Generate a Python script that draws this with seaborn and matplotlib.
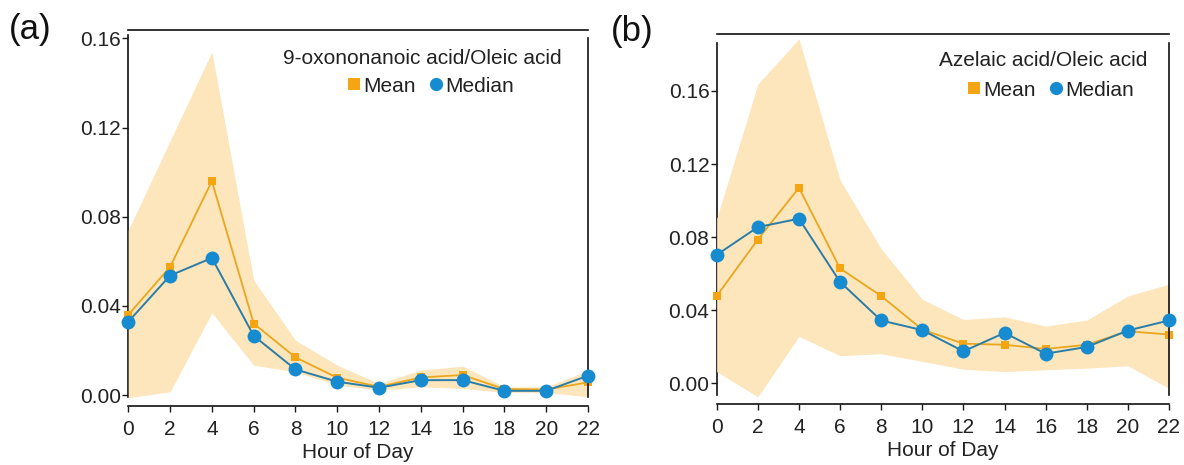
import matplotlib
matplotlib.use("Agg")
import matplotlib.pyplot as plt
from matplotlib.lines import Line2D
import numpy as np
import pandas as pd
import seaborn as sns

# Hour of day (x axis)
hours = [0, 2, 4, 6, 8, 10, 12, 14, 16, 18, 20, 22]

# (a) 9-oxononanoic acid / Oleic acid
a_mean = [0.036, 0.0575, 0.0959, 0.0321, 0.0169, 0.0078, 0.0037, 0.0079, 0.0090, 0.0027, 0.0025, 0.0057]
a_median = [0.0329, 0.0536, 0.0615, 0.0266, 0.0115, 0.0060, 0.0033, 0.0067, 0.0067, 0.0019, 0.0019, 0.0087]
a_upper = [0.074, 0.114, 0.1539, 0.0515, 0.0246, 0.0134, 0.0052, 0.0112, 0.0130, 0.0037, 0.0037, 0.0110]
a_lower = [-0.0012, 0.0015, 0.0369, 0.0134, 0.0104, 0.0045, 0.0022, 0.0037, 0.0030, 0.0012, 0.0012, -0.0008]

# (b) Azelaic acid / Oleic acid
b_mean = [0.0478, 0.0787, 0.1070, 0.0629, 0.0478, 0.0294, 0.0217, 0.0211, 0.0188, 0.0211, 0.0285, 0.0267]
b_median = [0.0703, 0.0855, 0.0901, 0.0555, 0.0344, 0.0291, 0.0175, 0.0276, 0.0162, 0.0199, 0.0289, 0.0344]
b_upper = [0.0901, 0.1637, 0.1885, 0.1113, 0.0736, 0.0460, 0.0349, 0.0364, 0.0313, 0.0346, 0.0478, 0.0543]
b_lower = [0.0064, -0.0074, 0.0257, 0.0151, 0.0162, 0.0120, 0.0077, 0.0064, 0.0074, 0.0083, 0.0096, -0.0028]

y_ticks = [0.00, 0.04, 0.08, 0.12, 0.16]
y_tick_labels = ["0.00", "0.04", "0.08", "0.12", "0.16"]

sns.set_theme(style="ticks")
plt.rcParams["font.family"] = ["Liberation Sans", "DejaVu Sans"]

FS = 15
MEAN_C = "#F5A511"
MEAN_LINE = "#E9A71E"
MED_C = "#168BD0"
MED_LINE = "#2A7DA6"
BAND_C = "#FDE5BC"

W, H = 1184, 465
fig = plt.figure(figsize=(W / 100, H / 100), dpi=100)


def px_axes(left, right, top, bottom):
    return fig.add_axes([left / W, 1 - bottom / H, (right - left) / W, (bottom - top) / H])


def draw_panel(ax, mean, median, upper, lower, ylim, left_bounds, right_bounds,
               title, title_xy, legend_xy, tag, tag_xy):
    df = pd.DataFrame({"hour": hours, "mean": mean, "median": median})
    ax.fill_between(hours, lower, upper, color=BAND_C, lw=0, zorder=2.6)
    sns.lineplot(data=df, x="hour", y="mean", ax=ax, color=MEAN_LINE, lw=1.3,
                 marker="s", markersize=6, markerfacecolor=MEAN_C,
                 markeredgewidth=0, zorder=3, clip_on=False)
    sns.lineplot(data=df, x="hour", y="median", ax=ax, color=MED_LINE, lw=1.4,
                 marker="o", markersize=10, markerfacecolor=MED_C,
                 markeredgewidth=0, zorder=4, clip_on=False)

    ax.set_xlim(0, 22)
    ax.set_ylim(*ylim)
    ax.set_xticks(hours)
    ax.set_xticklabels([str(h) for h in hours])
    ax.set_yticks(y_ticks)
    ax.set_yticklabels(y_tick_labels)
    ax.tick_params(axis="both", direction="out", length=4, width=1.0,
                   labelsize=FS, colors="#1a1a1a", labelcolor="#222222")
    ax.tick_params(axis="y", pad=1.2)
    ax.tick_params(axis="x", pad=6)
    ax.set_xlabel("Hour of Day", fontsize=FS, color="#222222", labelpad=3)
    ax.set_ylabel("")

    for side in ["left", "right", "top", "bottom"]:
        ax.spines[side].set_visible(True)
        ax.spines[side].set_linewidth(1.2)
        ax.spines[side].set_color("#111111")
    ax.spines["left"].set_bounds(*left_bounds)
    ax.spines["left"].set_zorder(2)
    ax.spines["right"].set_bounds(*right_bounds)
    ax.spines["right"].set_zorder(3.5)

    fig.text(title_xy[0] / W, 1 - title_xy[1] / H, title, ha="right", va="center",
             fontsize=FS, color="#222222")
    handles = [
        Line2D([], [], ls="none", marker="s", markersize=9, color=MEAN_C, markeredgewidth=0),
        Line2D([], [], ls="none", marker="o", markersize=9.5, color=MED_C, markeredgewidth=0),
    ]
    ax.legend(handles, ["Mean", "Median"], ncol=2, frameon=False, fontsize=FS,
              loc="center left", bbox_to_anchor=(legend_xy[0] / W, 1 - legend_xy[1] / H),
              bbox_transform=fig.transFigure, borderpad=0, borderaxespad=0,
              handlelength=0.6, handletextpad=0.15, columnspacing=0.66,
              labelcolor="#222222")
    fig.text(tag_xy[0] / W, 1 - tag_xy[1] / H, tag, ha="left", va="center",
             fontsize=25, color="#111111")


ax_a = px_axes(128.3, 588.0, 30.3, 406.0)
draw_panel(ax_a, a_mean, a_median, a_upper, a_lower,
           ylim=(-0.0049, 0.1636), left_bounds=(-0.0008, 0.1616), right_bounds=(-0.0008, 0.16),
           title="9-oxononanoic acid/Oleic acid", title_xy=(562, 58),
           legend_xy=(348, 86), tag="(a)", tag_xy=(9, 30))

ax_b = px_axes(716.7, 1169.0, 34.0, 404.0)
draw_panel(ax_b, b_mean, b_median, b_upper, b_lower,
           ylim=(-0.01133, 0.1912), left_bounds=(-0.0064, 0.1864), right_bounds=(-0.0064, 0.1864),
           title="Azelaic acid/Oleic acid", title_xy=(1147, 61),
           legend_xy=(968, 90), tag="(b)", tag_xy=(611, 32))

fig.savefig("out.png", dpi=100)
